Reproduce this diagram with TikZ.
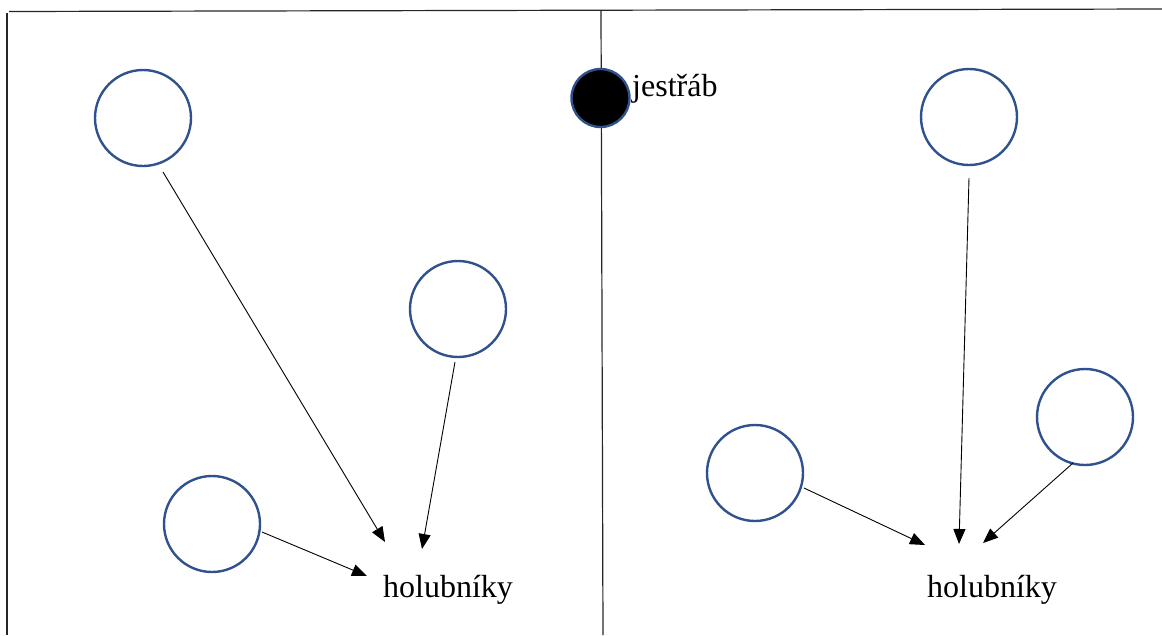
\documentclass[tikz,border=0pt]{standalone}
\usepackage{fontspec}
\setmainfont{Liberation Serif}
\usetikzlibrary{arrows.meta}
\definecolor{ringblue}{RGB}{47,82,143}
\tikzset{
  pigeon/.style={circle,draw=ringblue,line width=2.4pt,minimum size=96pt,inner sep=0pt},
  hawk/.style={circle,draw=ringblue,fill=black,line width=2.4pt,minimum size=58pt,inner sep=0pt},
  flight/.style={line width=0.9pt,-{Triangle[length=15pt,width=12pt]}},
  frame/.style={line width=1.2pt,black!85},
  lbl/.style={inner sep=0pt,font=\fontsize{32}{36}\selectfont}
}
\begin{document}
\begin{tikzpicture}[x=1pt,y=-1pt]
\useasboundingbox (0,0) rectangle (1162,635);
% frame lines
\coordinate (tl) at (9,11.5);
\coordinate (tr) at (1162,9);
\coordinate (lt) at (7,13);
\coordinate (lb) at (7,635);
\coordinate (mt) at (601,10);
\coordinate (mb) at (603,635);
\draw[frame] (tl) -- (tr);
\draw[frame] (lt) -- (lb);
\draw[frame] (mt) -- (mb);
% hawk
\node[hawk] (H) at (600.5,98) {};
\node[lbl,anchor=base west] (Ht) at (632,96) {jestřáb};
% left side
\node[pigeon] (L1) at (143,118) {};
\node[pigeon] (L2) at (458,309) {};
\node[pigeon] (L3) at (212,524) {};
\node[lbl,anchor=base] (LH) at (448,597) {holubníky};
\coordinate (L1s) at (163,172);
\coordinate (L1e) at (385,542);
\coordinate (L2s) at (455,362);
\coordinate (L2e) at (422,549);
\coordinate (L3s) at (262,532);
\coordinate (L3e) at (367,576);
\draw[flight] (L1s) -- (L1e);
\draw[flight] (L2s) -- (L2e);
\draw[flight] (L3s) -- (L3e);
% right side
\node[pigeon] (R1) at (969,117) {};
\node[pigeon] (R2) at (1085,417) {};
\node[pigeon] (R3) at (755,473) {};
\node[lbl,anchor=base] (RH) at (992,597) {holubníky};
\coordinate (R1s) at (969,178);
\coordinate (R1e) at (959,544);
\coordinate (R2s) at (1073,463);
\coordinate (R2e) at (983,543);
\coordinate (R3s) at (804,488);
\coordinate (R3e) at (925,545);
\draw[flight] (R1s) -- (R1e);
\draw[flight] (R2s) -- (R2e);
\draw[flight] (R3s) -- (R3e);
\end{tikzpicture}
\end{document}
